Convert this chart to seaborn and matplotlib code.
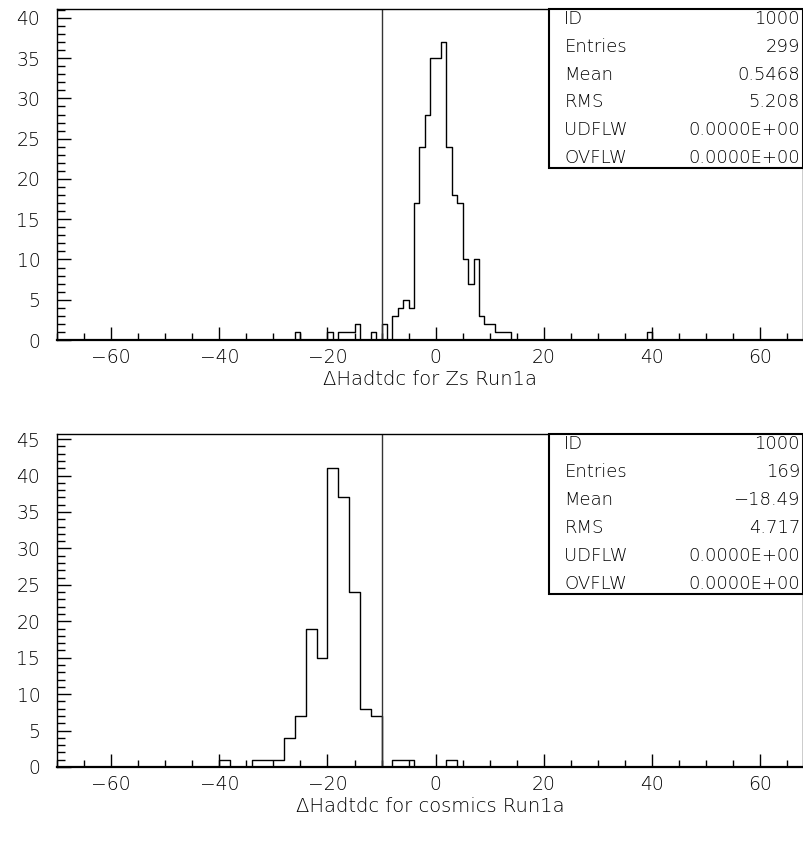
import numpy as np
import pandas as pd
import matplotlib
matplotlib.use("Agg")
import matplotlib.pyplot as plt
from matplotlib.ticker import MultipleLocator
import seaborn as sns

# ---------------- data ----------------
# top histogram (bin width 1): left edges of non-empty bins and counts
top_bin_left = [-26, -20, -18, -17, -16, -15, -12, -10, -8, -7, -6, -5, -4, -3,
                -2, -1, 0, 1, 2, 3, 4, 5, 6, 7, 8, 9, 10, 11, 12, 13, 39]
top_counts = [1, 1, 1, 1, 1, 2, 1, 2, 3, 4, 5, 4, 17, 24,
              28, 35, 35, 37, 24, 18, 17, 10, 7, 10, 3, 2, 2, 1, 1, 1, 1]
top_title = "ΔHadtdc for Zs Run1a"
top_stats_labels = ["ID", "Entries", "Mean", "RMS", "UDFLW", "OVFLW"]
top_stats_values = ["1000", "299", "0.5468", "5.208", "0.0000E+00", "0.0000E+00"]

# bottom histogram (bin width 2)
bot_bin_left = [-40, -34, -32, -30, -28, -26, -24, -22, -20, -18, -16, -14, -12, -8, -6, 2]
bot_counts = [1, 1, 1, 1, 4, 7, 19, 15, 41, 37, 24, 8, 7, 1, 1, 1]
bot_title = "ΔHadtdc for cosmics Run1a"
bot_stats_labels = ["ID", "Entries", "Mean", "RMS", "UDFLW", "OVFLW"]
bot_stats_values = ["1000", "169", "\u221218.49", "4.717", "0.0000E+00", "0.0000E+00"]

cut_value = -10

# ---------------- style ----------------
sns.set_style("ticks")
plt.rcParams['font.family'] = ['DejaVu Sans']
plt.rcParams['axes.unicode_minus'] = True
plt.rcParams['text.color'] = 'black'
plt.rcParams['axes.labelcolor'] = 'black'
plt.rcParams['xtick.color'] = 'black'
plt.rcParams['ytick.color'] = 'black'
FW = 'light'

fig = plt.figure(figsize=(8.04, 8.41), dpi=100)
W, H = 804.0, 841.0


def make_axes(left_px, top_px, right_px, bottom_px):
    return fig.add_axes([left_px / W, 1 - bottom_px / H,
                         (right_px - left_px) / W, (bottom_px - top_px) / H])


def draw_panel(ax, bin_left, counts, width, ymax, ymajor, title, labels, values):
    df = pd.DataFrame({"x": np.asarray(bin_left, float) + width / 2.0,
                       "w": np.asarray(counts, float)})
    edges = [float(e) for e in np.arange(-70, 70 + width, width)]
    sns.histplot(data=df, x="x", weights="w", bins=edges, element="step",
                 fill=False, color="black", linewidth=1.0, ax=ax)
    ax.axvline(cut_value, color="#333333", linewidth=1.0)
    ax.set_xlim(-70, 67.9)
    ax.set_ylim(0, ymax)
    ax.set_ylabel("")
    ax.set_xlabel(title, fontsize=14, fontweight=FW, labelpad=2.5, color="black")
    ax.xaxis.set_major_locator(MultipleLocator(20))
    ax.xaxis.set_minor_locator(MultipleLocator(5))
    ax.yaxis.set_major_locator(MultipleLocator(ymajor))
    ax.yaxis.set_minor_locator(MultipleLocator(1))
    ax.tick_params(axis='x', which='major', direction='in', length=9.5, width=1.0,
                   pad=5.5, labelsize=13.5, labelcolor="black")
    ax.tick_params(axis='x', which='minor', direction='in', length=5, width=1.0)
    ax.tick_params(axis='y', which='major', direction='in', length=10, width=1.0,
                   pad=12, labelsize=13.5, labelcolor="black")
    ax.tick_params(axis='y', which='minor', direction='in', length=5.5, width=1.0)
    for lab in ax.get_xticklabels() + ax.get_yticklabels():
        lab.set_fontweight(FW)
    for s in ax.spines.values():
        s.set_visible(True)
        s.set_linewidth(1.0)
        s.set_color("black")
    ax.spines['bottom'].set_linewidth(1.6)

    # statistics box
    box_left = (549 - 57) / 746.0
    box_bottom = 0.52
    ax.add_patch(plt.Rectangle((box_left, box_bottom), 1 - box_left, 1 - box_bottom,
                               transform=ax.transAxes, facecolor="white",
                               edgecolor="black", linewidth=1.5, zorder=5,
                               clip_on=False))
    y0 = 0.969
    dy = 0.0838
    for i, (lab, val) in enumerate(zip(labels, values)):
        ax.text(0.680, y0 - i * dy, lab, transform=ax.transAxes, ha="left",
                va="center", fontsize=13, fontweight=FW, color="black", zorder=6)
        ax.text(0.996, y0 - i * dy, val, transform=ax.transAxes, ha="right",
                va="center", fontsize=13, fontweight=FW, color="black", zorder=6)


ax1 = make_axes(57, 9, 803, 340)
draw_panel(ax1, top_bin_left, top_counts, 1, 41.1, 5, top_title,
           top_stats_labels, top_stats_values)

ax2 = make_axes(57, 434, 803, 767)
draw_panel(ax2, bot_bin_left, bot_counts, 2, 45.7, 5, bot_title,
           bot_stats_labels, bot_stats_values)

fig.savefig("out.png", dpi=100)
